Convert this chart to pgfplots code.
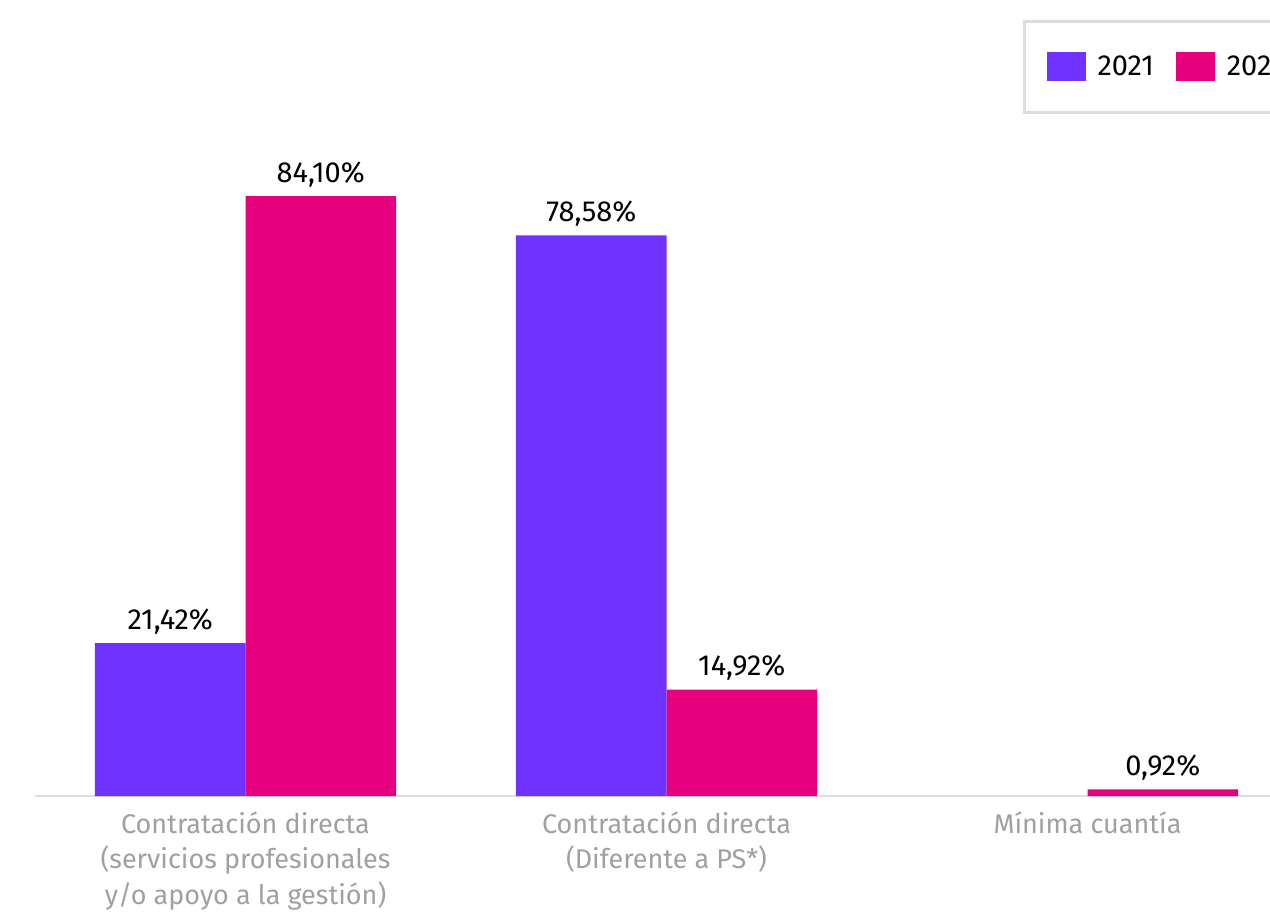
\documentclass[border=0pt]{standalone}
\usepackage{fontspec}
\setmainfont{Fira Sans}
\usepackage{pgfplots}
\pgfplotsset{compat=1.18}
\definecolor{c21}{HTML}{7033FF}
\definecolor{c22}{HTML}{E6007E}
\definecolor{axg}{HTML}{DDDDDD}
\definecolor{lab}{HTML}{A0A0A0}
\begin{document}
\begin{tikzpicture}[x=1pt,y=1pt]
\begin{axis}[
  at={(17.5pt,58pt)}, anchor=south west,
  scale only axis, width=617.5pt, height=356.7pt,
  xmin=-0.5, xmax=2.4335, ymin=0, ymax=100,
  ybar=0pt, bar width=0.3575,
  axis x line*=bottom, axis y line=none,
  x axis line style={draw=axg, line width=1pt, -},
  xtick={0,1,2},
  xticklabels={{Contratación directa\\(servicios profesionales\\y/o apoyo a la gestión)},{Contratación directa\\(Diferente a PS*)},{Mínima cuantía}},
  major tick length=0pt,
  xticklabel style={align=center, font=\fontsize{13.5}{17.6}\selectfont, text=lab, yshift=-4.5pt},
  enlargelimits=false, clip=false,
  nodes near coords={\pgfmathprintnumber[fixed,fixed zerofill,precision=2,use comma,assume math mode=true]{\pgfplotspointmeta}\%},
  every node near coord/.append style={font=\fontsize{14.5}{17}\selectfont, text=black, yshift=1pt},
  legend style={at={(0.8,1.0877)}, anchor=north west, draw=axg, line width=1.5pt,
    inner xsep=11pt, inner ysep=15pt, font=\fontsize{14.5}{17}\selectfont,
    /tikz/every odd column/.append style={column sep=4pt},
    /tikz/every even column/.append style={column sep=9pt}},
  legend columns=-1,
  legend image code/.code={\fill[#1] (0pt,-7.25pt) rectangle (19.5pt,7.25pt);},
]
\addplot[fill=c21, draw=none] coordinates {(0,21.42) (1,78.58)};
\addplot[fill=c22, draw=none] coordinates {(0,84.10) (1,14.92) (2,0.92)};
\legend{2021,2022}
\end{axis}
\pgfresetboundingbox
\useasboundingbox (0,0) rectangle (635,456);
\end{tikzpicture}
\end{document}
